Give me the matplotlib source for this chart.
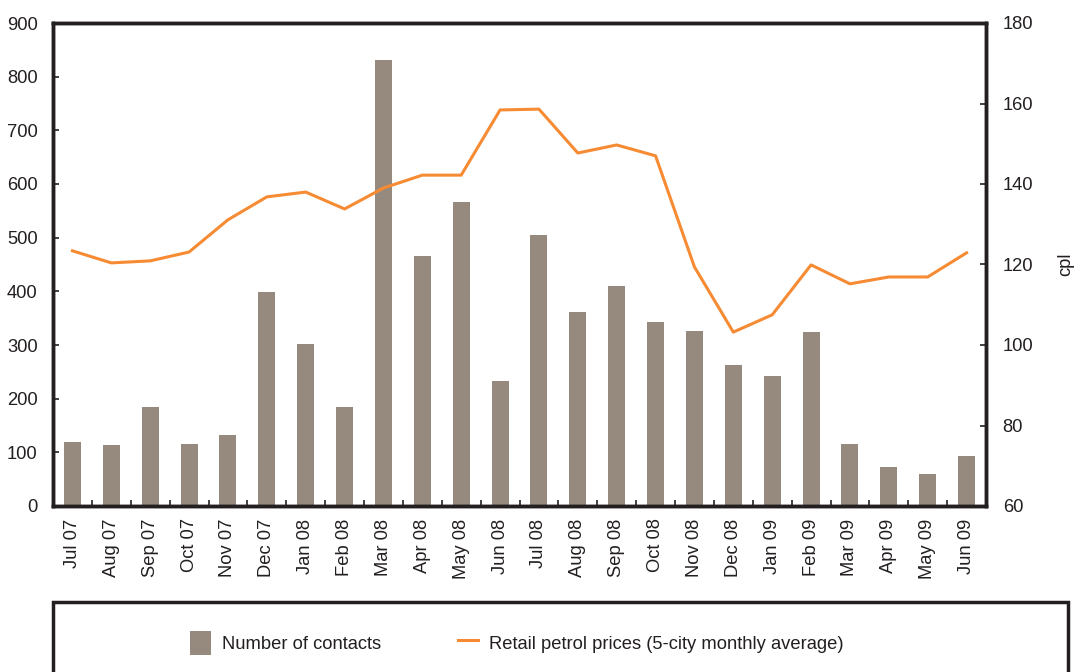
import matplotlib
matplotlib.use("Agg")
import matplotlib.pyplot as plt
from matplotlib.patches import Rectangle, Patch
from matplotlib.lines import Line2D
import numpy as np

plt.rcParams['font.family'] = ['Liberation Sans', 'DejaVu Sans']

months = ["Jul 07", "Aug 07", "Sep 07", "Oct 07", "Nov 07", "Dec 07", "Jan 08", "Feb 08",
          "Mar 08", "Apr 08", "May 08", "Jun 08", "Jul 08", "Aug 08", "Sep 08", "Oct 08",
          "Nov 08", "Dec 08", "Jan 09", "Feb 09", "Mar 09", "Apr 09", "May 09", "Jun 09"]
contacts = [119, 114, 184, 116, 132, 399, 302, 184, 831, 466, 566, 233, 505, 361, 410, 343,
            326, 263, 242, 324, 115, 73, 60, 93]
petrol = [123.4, 120.4, 120.9, 123.1, 131.1, 136.8, 138.0, 133.8, 139.0, 142.2, 142.2, 158.4,
          158.6, 147.7, 149.7, 147.0, 119.4, 103.2, 107.5, 119.9, 115.2, 116.9, 116.9, 122.9]

bar_color = "#968a7e"
line_color = "#f68b33"
dark = "#231f20"
fs = 13.2

fig = plt.figure(figsize=(10.77, 6.72), dpi=100)
ax = fig.add_axes([53/1077, 1-506/672, (986-53)/1077, (506-23)/672])
ax2 = ax.twinx()

x = np.arange(len(months))
ax.bar(x, contacts, width=0.44, color=bar_color, zorder=2)
ax2.plot(x, petrol, color=line_color, lw=2.2, zorder=3)

ax.set_xlim(-0.5, len(months) - 0.5)
ax.set_ylim(0, 900)
ax.set_yticks(range(0, 901, 100))
ax2.set_ylim(60, 180)
ax2.set_yticks(range(60, 181, 20))

ax.set_xticks(x)
ax.set_xticklabels(months, rotation=90, fontsize=fs, color=dark)
ax.set_xticks(np.arange(0.5, len(months) - 0.5, 1), minor=True)
ax.tick_params(axis='x', which='major', length=0, pad=9)
ax.tick_params(axis='x', which='minor', direction='in', length=4.5, width=1.2, color=dark)
ax.tick_params(axis='y', direction='in', length=4.5, width=1.2, color=dark, labelsize=fs,
               labelcolor=dark, pad=11)
ax2.tick_params(axis='y', direction='in', length=4.5, width=1.2, color=dark, labelsize=fs,
                labelcolor=dark, pad=12)

for a in (ax, ax2):
    for s in a.spines.values():
        s.set_linewidth(2.5)
        s.set_color(dark)
        s.set_zorder(5)

ax2.set_ylabel("cpl", fontsize=fs, color=dark, labelpad=17)
ax2.set_zorder(ax.get_zorder() + 1)
ax2.patch.set_visible(False)

# legend box
box = Rectangle((53/1077, -0.05), (1068-53)/1077, (1-602/672) + 0.05, transform=fig.transFigure,
                fill=False, edgecolor=dark, linewidth=2.5)
fig.patches.append(box)

handles = [Patch(facecolor=bar_color, edgecolor='none', label="Number of contacts"),
           Line2D([0], [0], color=line_color, lw=2.2, label="Retail petrol prices (5-city monthly average)")]
fig.legend(handles=handles, loc='center', bbox_to_anchor=(517/1077, 1-643/672), ncol=2,
           frameon=False, fontsize=fs, handlelength=1.1, handleheight=1.7, columnspacing=4.2,
           handletextpad=0.6, labelcolor=dark)

fig.savefig("out.png", dpi=100)
